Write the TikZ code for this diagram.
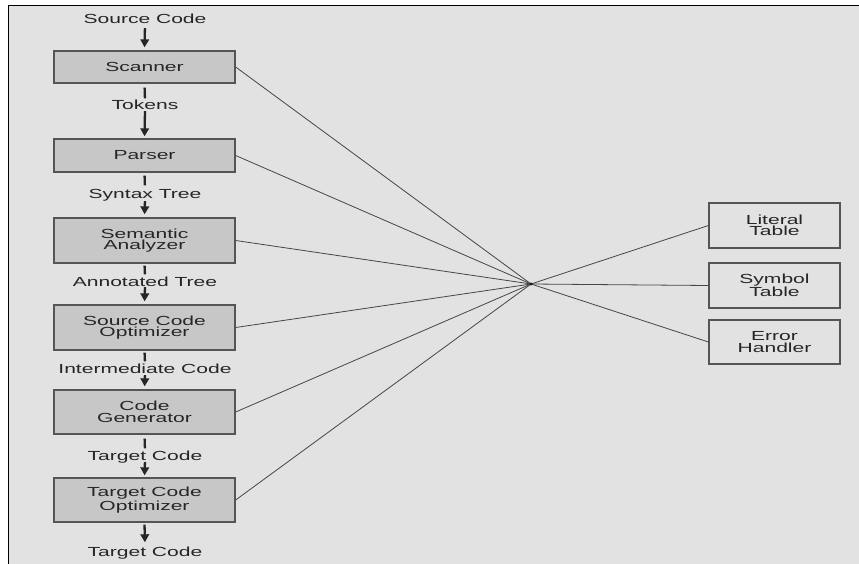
\documentclass[tikz,border=0pt]{standalone}
\usepackage{fontspec}
\setmainfont{Liberation Sans}[FakeStretch=1.6]
\usetikzlibrary{arrows.meta}

\definecolor{paper}{RGB}{226,226,226}
\definecolor{stagefill}{RGB}{199,199,199}
\definecolor{edgegray}{RGB}{85,85,85}
\definecolor{wiregray}{RGB}{70,70,70}

\tikzset{
  every node/.style={font=\fontsize{13.2}{11.5}\selectfont, text=black!85},
  stage/.style={draw=edgegray, line width=1.3bp, fill=stagefill,
    minimum width=181bp, align=center, inner sep=0pt},
  tablebox/.style={draw=edgegray, line width=1.2bp, fill=paper,
    minimum width=131bp, minimum height=45bp, align=center, inner sep=0pt},
  flowlabel/.style={inner sep=0pt, text height=9.5bp, text depth=0pt, anchor=base},
  tick/.style={line width=2.3bp, black!85},
  flow/.style={line width=2.3bp, black!85, -{Triangle[width=8.5bp,length=8bp]}},
  wire/.style={line width=0.8bp, wiregray},
}

\begin{document}
\begin{tikzpicture}[x=1bp, y=-1bp]
  \useasboundingbox (0,0) rectangle (859,564);
  % page with its frame
  \fill[white] (0,0) rectangle (859,564);
  \fill[paper] (9,6) rectangle (859,564);
  \draw[line width=1.8bp, black] (8.5,564) -- (8.5,5.5) -- (859,5.5);

  % compiler phases
  \node[stage, minimum height=32bp] (scan) at (144.5,67)    {Scanner};
  \node[stage, minimum height=33bp] (pars) at (144.5,155.5) {Parser};
  \node[stage, minimum height=45bp] (sema) at (144.5,240.5) {Semantic\\Analyzer};
  \node[stage, minimum height=45bp] (sopt) at (144.5,327.5) {Source Code\\Optimizer};
  \node[stage, minimum height=44bp] (cgen) at (144.5,412)   {Code\\Generator};
  \node[stage, minimum height=44bp] (topt) at (144.5,500)   {Target Code\\Optimizer};

  % data passed between phases
  \node[flowlabel] (src)  at (145,24)  {Source Code};
  \node[flowlabel] (tok)  at (145,110) {Tokens};
  \node[flowlabel] (syn)  at (145,199) {Syntax Tree};
  \node[flowlabel] (ann)  at (145,286) {Annotated Tree};
  \node[flowlabel] (imc)  at (145,373) {Intermediate Code};
  \node[flowlabel] (tgt)  at (145,460) {Target Code};
  \node[flowlabel] (out)  at (145,556) {Target Code};

  % auxiliary tables
  \node[tablebox] (lit) at (774.5,225.5) {Literal\\Table};
  \node[tablebox] (sym) at (774.5,285.5) {Symbol\\Table};
  \node[tablebox, minimum height=44bp] (err) at (774.5,342) {Error\\Handler};

  % shared junction
  \coordinate (hub) at (531,284);

  % flow down the pipeline
  \draw[flow, shorten <=4bp, shorten >=3bp] (src.south) -- (scan.north);
  \draw[tick, shorten <=4bp, shorten >=2bp] (scan.south) -- (tok.north);
  \draw[flow, shorten <=1bp, shorten >=2bp] (tok.south) -- (pars.north);
  \draw[tick, shorten <=3bp, shorten >=4bp] (pars.south) -- (syn.north);
  \draw[flow, shorten <=2bp, shorten >=3bp] (syn.south) -- (sema.north);
  \draw[tick, shorten <=2bp, shorten >=2bp] (sema.south) -- (ann.north);
  \draw[flow, shorten <=1bp, shorten >=3bp] (ann.south) -- (sopt.north);
  \draw[tick, shorten <=2bp, shorten >=2bp] (sopt.south) -- (imc.north);
  \draw[flow, shorten <=2bp, shorten >=3bp] (imc.south) -- (cgen.north);
  \draw[tick, shorten <=4bp, shorten >=2bp] (cgen.south) -- (tgt.north);
  \draw[flow, shorten <=2bp, shorten >=2bp] (tgt.south) -- (topt.north);
  \draw[flow, shorten <=2bp, shorten >=4bp] (topt.south) -- (out.north);

  % every phase shares the tables
  \foreach \n in {scan,pars,sema,sopt,cgen,topt}
    \draw[wire] (\n.east) -- (hub);
  \foreach \n in {lit,sym,err}
    \draw[wire] (hub) -- (\n.west);
  \fill[black!90] (hub) circle (1.6bp);
\end{tikzpicture}
\end{document}
